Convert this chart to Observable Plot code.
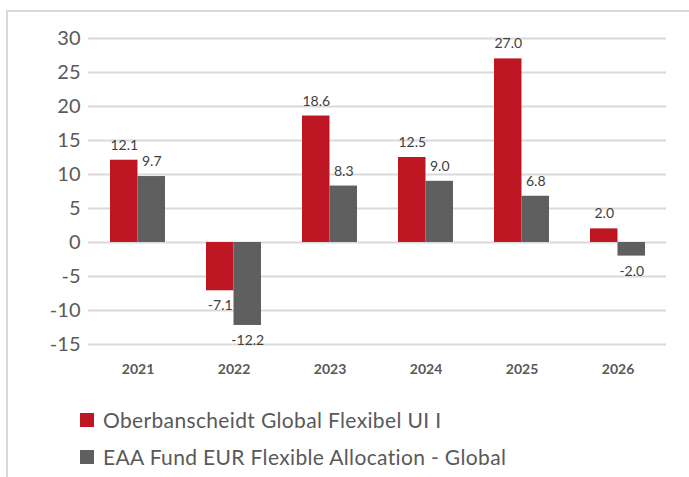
<!DOCTYPE html>
<html>
<head>
<meta charset="utf-8">
<script src="https://cdn.jsdelivr.net/npm/d3@7"></script>
<script src="https://cdn.jsdelivr.net/npm/@observablehq/plot@0.6"></script>
<style>
  body { margin: 0; background: #fff; font-family: Lato, sans-serif; }
  #wrap { position: relative; width: 689px; height: 477px; overflow: hidden; background: #fff; }
  #frame { position: absolute; left: 6px; top: 10px; width: 720px; height: 520px; border-left: 2px solid #d9d9d9; border-top: 2px solid #d9d9d9; box-sizing: border-box; }
  #chart { position: absolute; left: 0; top: 0; }
  .leg { position: absolute; left: 80px; height: 14px; display: flex; align-items: center; white-space: nowrap; }
  .sw { width: 14px; height: 14px; margin-right: 9px; flex: none; }
  .lt { font-family: Lato, sans-serif; font-size: 21px; letter-spacing: 0.35px; color: #595959; line-height: 14px; }
</style>
</head>
<body>
<div id="wrap">
  <div id="frame"></div>
  <div id="chart"></div>
  <div id="legend"></div>
</div>
<script>
const years = ["2021", "2022", "2023", "2024", "2025", "2026"];
const fundValues = [12.1, -7.1, 18.6, 12.5, 27.0, 2.0];
const categoryValues = [9.7, -12.2, 8.3, 9.0, 6.8, -2.0];
const seriesNames = ["Oberbanscheidt Global Flexibel UI I", "EAA Fund EUR Flexible Allocation - Global"];
const seriesColors = ["#be1622", "#5f5f5f"];
const yTicks = [30, 25, 20, 15, 10, 5, 0, -5, -10, -15];

const data = years.flatMap((yr, i) => [
  { year: yr, series: seriesNames[0], value: fundValues[i] },
  { year: yr, series: seriesNames[1], value: categoryValues[i] }
]);

// layout (styling only)
const W = 689, ML = 88, MR = 23;
const padInner = 0.429;
const step = (W - ML - MR) / years.length;
const half = step * (1 - padInner) / 2;   // width of one bar within the group

const s0 = d => d.series === seriesNames[0];
const s1 = d => d.series === seriesNames[1];
const fmt = d => d.value.toFixed(1);

const chart = Plot.plot({
  width: W,
  height: 385,
  marginTop: 38,
  marginBottom: 41,
  marginLeft: ML,
  marginRight: MR,
  style: { fontFamily: "Lato, sans-serif", background: "transparent", overflow: "visible" },
  x: { domain: years, paddingInner: padInner, paddingOuter: padInner / 2, label: null },
  y: { domain: [-15, 30], axis: null },
  color: { domain: seriesNames, range: seriesColors },
  marks: [
    Plot.ruleY(yTicks, { stroke: "#d9d9d9", strokeWidth: 2 }),
    Plot.axisY(yTicks, { anchor: "left", tickSize: 0, tickPadding: 8, fontSize: 20, fill: "#595959", tickFormat: d => String(d), label: null }),
    Plot.barY(data.filter(s0), { x: "year", y: "value", fill: "series", insetRight: half }),
    Plot.barY(data.filter(s1), { x: "year", y: "value", fill: "series", insetLeft: half }),
    Plot.text(data.filter(d => s0(d) && d.value >= 0), { x: "year", y: "value", text: fmt, dx: -half / 2, dy: -15, fontSize: 14, fill: "#404040" }),
    Plot.text(data.filter(d => s0(d) && d.value < 0), { x: "year", y: "value", text: fmt, dx: -half / 2, dy: 15, fontSize: 14, fill: "#404040" }),
    Plot.text(data.filter(d => s1(d) && d.value >= 0), { x: "year", y: "value", text: fmt, dx: half / 2, dy: -15, fontSize: 14, fill: "#404040" }),
    Plot.text(data.filter(d => s1(d) && d.value < 0), { x: "year", y: "value", text: fmt, dx: half / 2, dy: 15, fontSize: 14, fill: "#404040" }),
    Plot.axisX({ anchor: "bottom", tickSize: 0, tickPadding: 20, fontSize: 14, fontWeight: "bold", fill: "#595959", label: null })
  ]
});
document.getElementById("chart").appendChild(chart);

const legend = document.getElementById("legend");
const legendTops = [413, 450];
seriesNames.forEach((name, i) => {
  const row = document.createElement("div");
  row.className = "leg";
  row.style.top = legendTops[i] + "px";
  const sw = document.createElement("span");
  sw.className = "sw";
  sw.style.background = seriesColors[i];
  const t = document.createElement("span");
  t.className = "lt";
  t.textContent = name;
  row.appendChild(sw);
  row.appendChild(t);
  legend.appendChild(row);
});
</script>
</body>
</html>
